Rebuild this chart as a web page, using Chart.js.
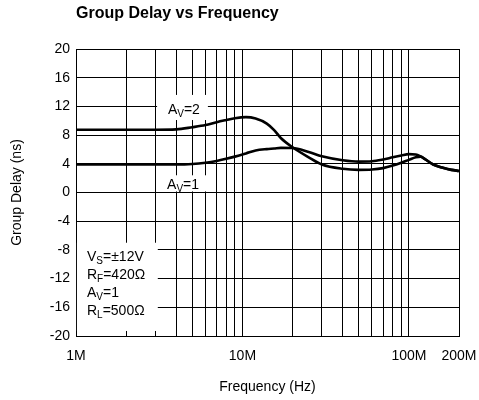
<!DOCTYPE html>
<html><head><meta charset="utf-8">
<script src="https://cdn.jsdelivr.net/npm/chart.js@4.4.0/dist/chart.umd.min.js"></script>
<style>html,body{margin:0;padding:0;background:#fff;} #wrap{width:479px;height:400px;}</style>
</head><body><div id="wrap"><canvas id="c" width="479" height="400"></canvas></div>
<script>
// Frequency in MHz
const freqMHz   = [1, 2, 3, 4, 5, 6, 7, 8, 9, 10.5, 12, 14, 15.5, 17, 20, 25, 30, 40, 50, 60, 70, 80, 90, 100, 110, 118, 125, 140, 160, 180, 200];
const delayAv2  = [8.75, 8.75, 8.75, 8.8, 9.1, 9.4, 9.8, 10.1, 10.35, 10.5, 10.3, 9.6, 8.7, 7.6, 6.3, 4.9, 3.9, 3.3, 3.15, 3.2, 3.4, 3.75, 4.15, 4.55, 4.9, 5.0, 4.65, 3.9, 3.45, 3.15, 3.0];
const delayAv1  = [3.9, 3.9, 3.9, 3.9, 3.97, 4.15, 4.4, 4.7, 5.0, 5.45, 5.85, 6.05, 6.13, 6.22, 6.2, 5.65, 5.05, 4.5, 4.3, 4.35, 4.6, 4.9, 5.15, 5.35, 5.3, 5.0, 4.65, 3.9, 3.45, 3.15, 3.0];
const xTickValues = [1, 2, 3, 4, 5, 6, 7, 8, 9, 10, 20, 30, 40, 50, 60, 70, 80, 90, 100, 200];
const xTickLabels = {1: '1M', 10: '10M', 100: '100M', 200: '200M'};
const yTickValues = [-20, -16, -12, -8, -4, 0, 4, 8, 12, 16, 20];

const FONT = '"Liberation Sans", Arial, sans-serif';

function drawRich(ctx, x, y, parts, size) {
  let cx = x;
  ctx.textBaseline = 'alphabetic';
  ctx.textAlign = 'left';
  for (const [t, sub] of parts) {
    const fs = sub ? Math.round(size * 0.68) : size;
    ctx.font = fs + 'px ' + FONT;
    ctx.fillText(t, cx, y + (sub ? size * 0.22 : 0));
    cx += ctx.measureText(t).width;
  }
  return cx - x;
}
function richWidth(ctx, parts, size) {
  let w = 0;
  for (const [t, sub] of parts) {
    const fs = sub ? Math.round(size * 0.68) : size;
    ctx.font = fs + 'px ' + FONT;
    w += ctx.measureText(t).width;
  }
  return w;
}

const overlay = {
  id: 'overlay',
  beforeDatasetsDraw(chart) {
    const ctx = chart.ctx, xs = chart.scales.x, ys = chart.scales.y;
    const X = v => xs.getPixelForValue(v), Y = v => ys.getPixelForValue(v);
    ctx.save();
    ctx.fillStyle = '#fff';
    const boxes = [
      [3.07, 6.2, 13.6, 10.1],
      [3.07, 6.2, 2.4, 0.15],
      [1.013, 3.1, -7.0, -19.3]
    ];
    for (const [x0, x1, y0, y1] of boxes) {
      ctx.fillRect(X(x0), Y(y0), X(x1) - X(x0), Y(y1) - Y(y0));
    }
    ctx.fillStyle = '#000';
    const s = 14;
    const av2 = [['A', false], ['V', true], ['=2', false]];
    const av1 = [['A', false], ['V', true], ['=1', false]];
    drawRich(ctx, X(4.45) - richWidth(ctx, av2, s) / 2, Y(10.95), av2, s);
    drawRich(ctx, X(4.4) - richWidth(ctx, av1, s) / 2, Y(0.45), av1, s);
    const px = X(1.164);
    drawRich(ctx, px, Y(-9.6), [['V', false], ['S', true], ['=±12V', false]], s);
    drawRich(ctx, px, Y(-12.1), [['R', false], ['F', true], ['=420Ω', false]], s);
    drawRich(ctx, px, Y(-14.6), [['A', false], ['V', true], ['=1', false]], s);
    drawRich(ctx, px, Y(-17.1), [['R', false], ['L', true], ['=500Ω', false]], s);
    ctx.restore();
  },
  afterDraw(chart) {
    const ctx = chart.ctx;
    ctx.save();
    ctx.fillStyle = '#000';
    ctx.font = 'bold 16px ' + FONT;
    ctx.textAlign = 'left';
    ctx.textBaseline = 'middle';
    ctx.fillText('Group Delay vs Frequency', chart.chartArea.left, 14);
    ctx.restore();
  }
};

new Chart(document.getElementById('c'), {
  type: 'line',
  data: {
    datasets: [
      { label: 'AV=2', data: freqMHz.map((f, i) => ({x: f, y: delayAv2[i]})),
        borderColor: '#000', borderWidth: 2.6, pointRadius: 0, cubicInterpolationMode: 'monotone', fill: false },
      { label: 'AV=1', data: freqMHz.map((f, i) => ({x: f, y: delayAv1[i]})),
        borderColor: '#000', borderWidth: 2.6, pointRadius: 0, cubicInterpolationMode: 'monotone', fill: false }
    ]
  },
  options: {
    responsive: false,
    animation: false,
    devicePixelRatio: 1,
    layout: { padding: { top: 49, right: 20, left: 0, bottom: 0 } },
    plugins: { legend: { display: false }, tooltip: { enabled: false }, title: { display: false } },
    scales: {
      x: {
        type: 'logarithmic', min: 1, max: 200,
        afterBuildTicks(scale) { scale.ticks = xTickValues.map(v => ({value: v})); },
        afterFit(scale) { scale.height = 64; scale.paddingLeft = 0; scale.paddingRight = 0; },
        ticks: { autoSkip: false, maxRotation: 0, minRotation: 0, padding: 12, color: '#000',
                 font: { family: FONT, size: 14 },
                 callback: v => xTickLabels[v] || '' },
        grid: { color: '#000', lineWidth: 1, drawTicks: false },
        border: { display: true, color: '#000', width: 1 },
        title: { display: true, text: 'Frequency (Hz)', color: '#000', font: { family: FONT, size: 14 },
                 padding: { top: 0, bottom: 4 } }
      },
      y: {
        type: 'linear', min: -20, max: 20,
        afterBuildTicks(scale) { scale.ticks = yTickValues.map(v => ({value: v})); },
        afterFit(scale) { scale.width = 76; scale.paddingTop = 0; scale.paddingBottom = 0; },
        ticks: { padding: 6, color: '#000', font: { family: FONT, size: 14 } },
        grid: { color: '#000', lineWidth: 1, drawTicks: false },
        border: { display: true, color: '#000', width: 1 },
        title: { display: true, text: 'Group Delay (ns)', color: '#000', font: { family: FONT, size: 14 },
                 padding: { top: 9, bottom: 0 } }
      }
    }
  },
  plugins: [overlay]
});
</script>
</body></html>
